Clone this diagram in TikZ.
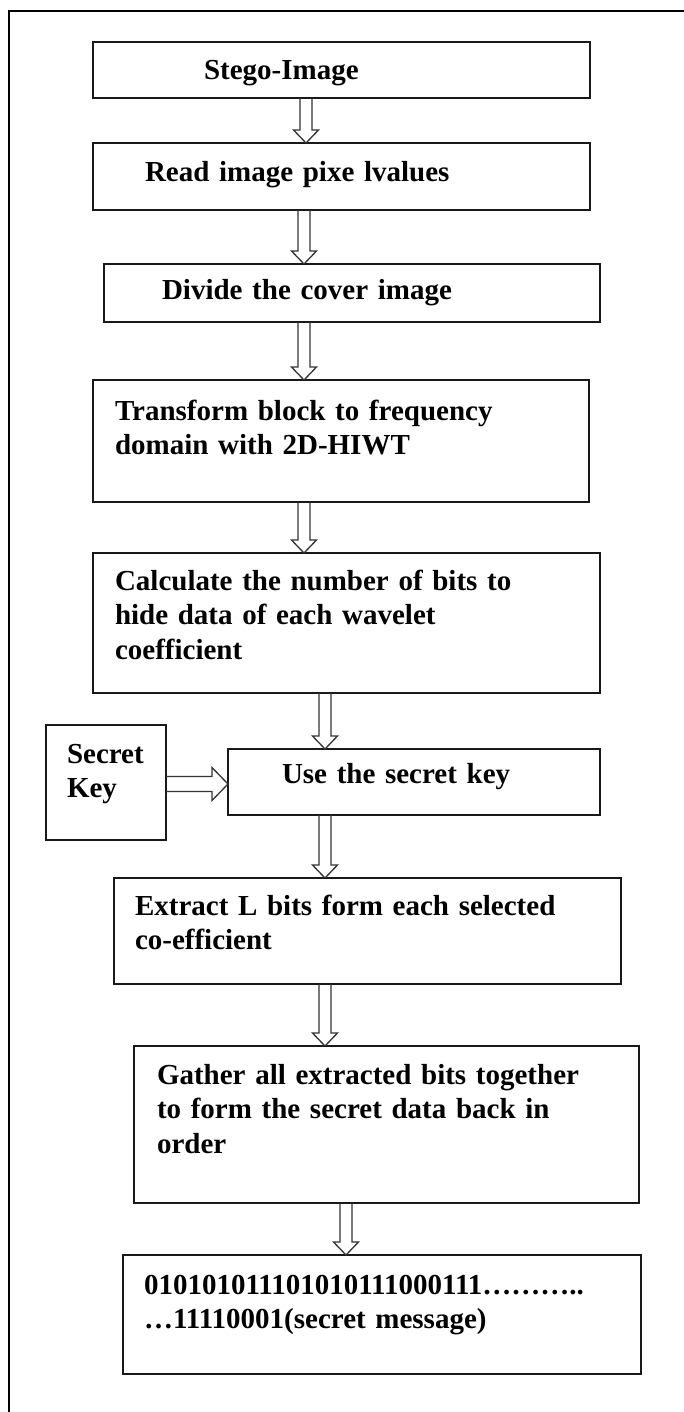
\documentclass[tikz,border=0pt]{standalone}
\usepackage{fontspec}
\setmainfont{Liberation Serif}
\usetikzlibrary{calc}

\tikzset{
  stepbox/.style={draw=black!90, line width=1.8pt, rectangle, anchor=north west,
    outer sep=0pt, inner ysep=0pt, align=left,
    font=\fontsize{29}{34.5}\selectfont\bfseries},
  arrowline/.style={draw=black!80, line width=1.3pt, line join=miter},
  frame/.style={draw=black, line width=2.6pt}
}

% sizes of the block arrows
\def\shaft{6pt}
\def\head{12.5pt}
\def\headlen{13pt}

% hollow block arrow: #1 = start of the shaft, #2 = tip
\newcommand{\hollowarrow}[2]{%
  \coordinate (hb) at ($(#2)!\headlen!(#1)$);
  \draw[arrowline] ($(#1)!\shaft!90:(#2)$) -- ($(hb)!\shaft!90:(#2)$) -- ($(hb)!\head!90:(#2)$)
    -- (#2) -- ($(hb)!\head!-90:(#2)$) -- ($(hb)!\shaft!-90:(#2)$) -- ($(#1)!\shaft!-90:(#2)$);
}

\begin{document}
\begin{tikzpicture}[x=1pt, y=-1pt]
  \path[use as bounding box, clip] (0,0) rectangle (684,1412);

  % outer frame, only its top and left side are on the page
  \draw[frame] (700,11) -| (9,1430);

  % the steps
  \node[stepbox, inner xsep=111pt, text width=275pt, text height=38pt, text depth=18pt] (stego) at (93,42) {Stego-Image};
  \node[stepbox, inner xsep=52pt, text width=393pt, text height=39pt, text depth=28pt] (read) at (93,143) {Read image pixe lvalues};
  \node[stepbox, inner xsep=58pt, text width=380pt, text height=36pt, text depth=22pt] (divide) at (104,264) {Divide the cover image};
  \node[stepbox, inner xsep=22pt, text width=452pt, text height=40pt, text depth=82pt] (transform) at (93,380)
    {Transform block to frequency\\domain with 2D-HIWT};
  \node[stepbox, inner xsep=22pt, text width=463pt, text height=37pt, text depth=103pt] (calc) at (93,553)
    {Calculate the number of bits to\\hide data of each wavelet\\coefficient};
  \node[stepbox, inner xsep=21pt, text width=78pt, text height=38pt, text depth=77pt] (key) at (46,725) {Secret\\Key};
  \node[stepbox, inner xsep=54pt, text width=264pt, text height=34pt, text depth=32pt] (use) at (228,749) {Use the secret key};
  \node[stepbox, inner xsep=21pt, text width=465pt, text height=37pt, text depth=69pt] (extract) at (114,878)
    {Extract L bits form each selected\\co-efficient};
  \node[stepbox, inner xsep=23pt, text width=459pt, text height=38pt, text depth=119pt] (gather) at (134,1046)
    {Gather all extracted bits together\\to form the secret data back in\\order};
  \node[stepbox, inner xsep=21pt, text width=476pt, text height=39pt, text depth=80pt] (msg) at (123,1255)
    {010101011101010111000111………..\\…11110001(secret message)};

  % downward arrows between the steps
  \foreach \a/\b/\ax in {stego/read/306, read/divide/304, divide/transform/304, transform/calc/304,
                         calc/use/325, use/extract/325, extract/gather/325, gather/msg/346} {
    \coordinate (top) at (\a.south -| \ax,0);
    \coordinate (tip) at (\b.north -| \ax,0);
    \hollowarrow{top}{tip}
  }

  % key goes into the step beside it, a bit bigger arrow
  \def\shaft{7.5pt}
  \def\head{16.5pt}
  \def\headlen{16pt}
  \coordinate (keyout) at (key.east |- 0,784);
  \coordinate (usein) at (use.west |- 0,784);
  \hollowarrow{keyout}{usein}
\end{tikzpicture}
\end{document}
